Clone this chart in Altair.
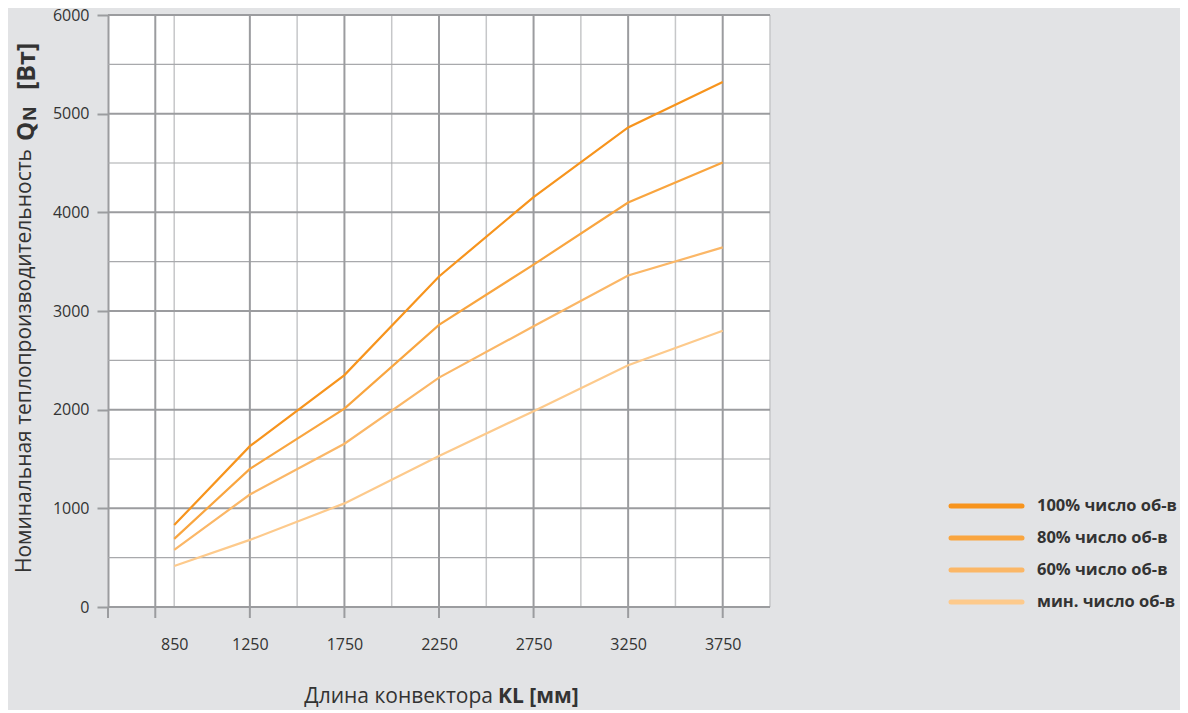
import altair as alt
import pandas as pd

# ---- data ----
lengths = [850, 1250, 1750, 2250, 2750, 3250, 3750]
series_names = ["100% число об-в", "80% число об-в", "60% число об-в", "мин. число об-в"]
q100 = [830, 1630, 2350, 3350, 4155, 4860, 5320]
q80 = [690, 1400, 2010, 2860, 3470, 4100, 4505]
q60 = [580, 1140, 1655, 2325, 2845, 3360, 3645]
qmin = [415, 680, 1050, 1530, 1985, 2450, 2800]
colors = ["#F7941D", "#F9A53F", "#FBB767", "#FDCA8C"]

x_labels = [850, 1250, 1750, 2250, 2750, 3250, 3750]
x_ticks = [500, 750, 1250, 1750, 2250, 2750, 3250, 3750]
x_grid_major = [750, 1250, 1750, 2250, 2750, 3250, 3750]
x_grid_minor = [850, 1500, 2000, 2500, 3000, 3500, 4000]
y_labels = [0, 1000, 2000, 3000, 4000, 5000, 6000]
y_grid_major = [0, 1000, 2000, 3000, 4000, 5000, 6000]
y_grid_minor = [500, 1500, 2500, 3500, 4500, 5500]

y_title_regular = "Номинальная теплопроизводительность"
y_title_q = "Q"
y_title_n = "N"
y_title_unit = "[Вт]"
x_title_regular = "Длина конвектора"
x_title_bold = "KL [мм]"

# ---- build tables ----
rows = []
for name, vals in zip(series_names, [q100, q80, q60, qmin]):
    for L, v in zip(lengths, vals):
        rows.append({"series": name, "length": L, "q": v})
df = pd.DataFrame(rows)

BG = "#E2E3E5"
DARK = "#9B9C9F"
MID = "#A8A9AC"
LIGHT = "#C6C7C9"
TEXT = "#333333"
FONT = "Open Sans"

xs = alt.Scale(domain=[500, 4000], nice=False, zero=False)
ys = alt.Scale(domain=[0, 6000], nice=False)
cs = alt.Scale(domain=series_names, range=colors)

x_axis = alt.Axis(values=x_labels, ticks=False, domain=False, grid=False, title=None,
                  labelPadding=29, labelFontSize=16, labelColor=TEXT, labelFont=FONT,
                  labelFlush=False, format="d")

def vrule(vals, color, w):
    return alt.Chart(pd.DataFrame({"v": vals})).mark_rule(color=color, strokeWidth=w).encode(
        x=alt.X("v:Q", scale=xs, axis=x_axis))

def hrule(vals, color, w):
    return alt.Chart(pd.DataFrame({"v": vals})).mark_rule(color=color, strokeWidth=w).encode(
        y=alt.Y("v:Q", scale=ys, axis=None))

g_xminor = vrule(x_grid_minor, LIGHT, 1.5)
g_yminor = hrule(y_grid_minor, MID, 1.2)
g_xmajor = vrule(x_grid_major, DARK, 2)
g_ymajor = hrule(y_grid_major, DARK, 2)

ticks = alt.Chart(pd.DataFrame({"v": x_ticks})).mark_rule(color=DARK, strokeWidth=2).encode(
    x=alt.X("v:Q", scale=xs, axis=x_axis), y=alt.value(592), y2=alt.value(603))

lines = alt.Chart(df).mark_line(strokeWidth=2.2).encode(
    x=alt.X("length:Q", scale=xs, axis=x_axis),
    y=alt.Y("q:Q", scale=ys, axis=alt.Axis(values=y_labels, grid=False, title=None, format="d",
                                           tickSize=11, tickColor=DARK, tickWidth=2,
                                           domain=True, domainColor=DARK, domainWidth=2,
                                           labelPadding=8, labelFontSize=16, labelColor=TEXT,
                                           labelFont=FONT)),
    color=alt.Color("series:N", scale=cs, legend=None),
)

# ---- legend ----
leg_df = pd.DataFrame({"series": series_names})
leg_y = alt.Y("series:N", scale=alt.Scale(type="point", domain=series_names, range=[491, 587], padding=0), axis=None)
leg_rules = alt.Chart(leg_df).mark_rule(strokeWidth=5, strokeCap="round").encode(
    x=alt.value(843), x2=alt.value(914), y=leg_y,
    color=alt.Color("series:N", scale=cs, legend=None))
leg_text = alt.Chart(leg_df).mark_text(align="left", baseline="middle", fontWeight="bold",
                                       fontSize=16.5, color=TEXT, font=FONT).encode(
    x=alt.value(929), y=leg_y, text="series:N")

# ---- titles ----
def txt(s, **kw):
    return alt.Chart(pd.DataFrame({"t": [s]})).mark_text(color=TEXT, font=FONT, **kw).encode(text="t:N")

yt_reg = txt(y_title_regular, angle=270, align="right", baseline="middle", fontSize=21).encode(
    x=alt.value(-83), y=alt.value(134))
yt_q = txt(y_title_q, angle=270, align="left", baseline="middle", fontSize=24, fontWeight="bold").encode(
    x=alt.value(-81), y=alt.value(126))
yt_n = txt(y_title_n, angle=270, align="left", baseline="middle", fontSize=18, fontWeight="bold").encode(
    x=alt.value(-77), y=alt.value(106))
yt_u = txt(y_title_unit, angle=270, align="left", baseline="middle", fontSize=25, fontWeight="bold").encode(
    x=alt.value(-81), y=alt.value(75))

xt_reg = txt(x_title_regular, align="right", baseline="alphabetic", fontSize=21).encode(
    x=alt.value(385), y=alt.value(688))
xt_bold = txt(x_title_bold, align="left", baseline="alphabetic", fontSize=21, fontWeight="bold").encode(
    x=alt.value(390), y=alt.value(688))

chart = alt.layer(
    g_xminor, g_yminor, g_xmajor, g_ymajor, ticks, lines,
    leg_rules, leg_text, yt_reg, yt_q, yt_n, yt_u, xt_reg, xt_bold,
).resolve_scale(y="independent").properties(
    width=662, height=592,
    autosize=alt.AutoSizeParams(type="none"),
    padding={"left": 100, "top": 7, "right": 410, "bottom": 103},
    background=BG,
).configure_view(fill="white", stroke=None)

chart.save("out.html", embed_options={"renderer": "svg", "actions": False})
